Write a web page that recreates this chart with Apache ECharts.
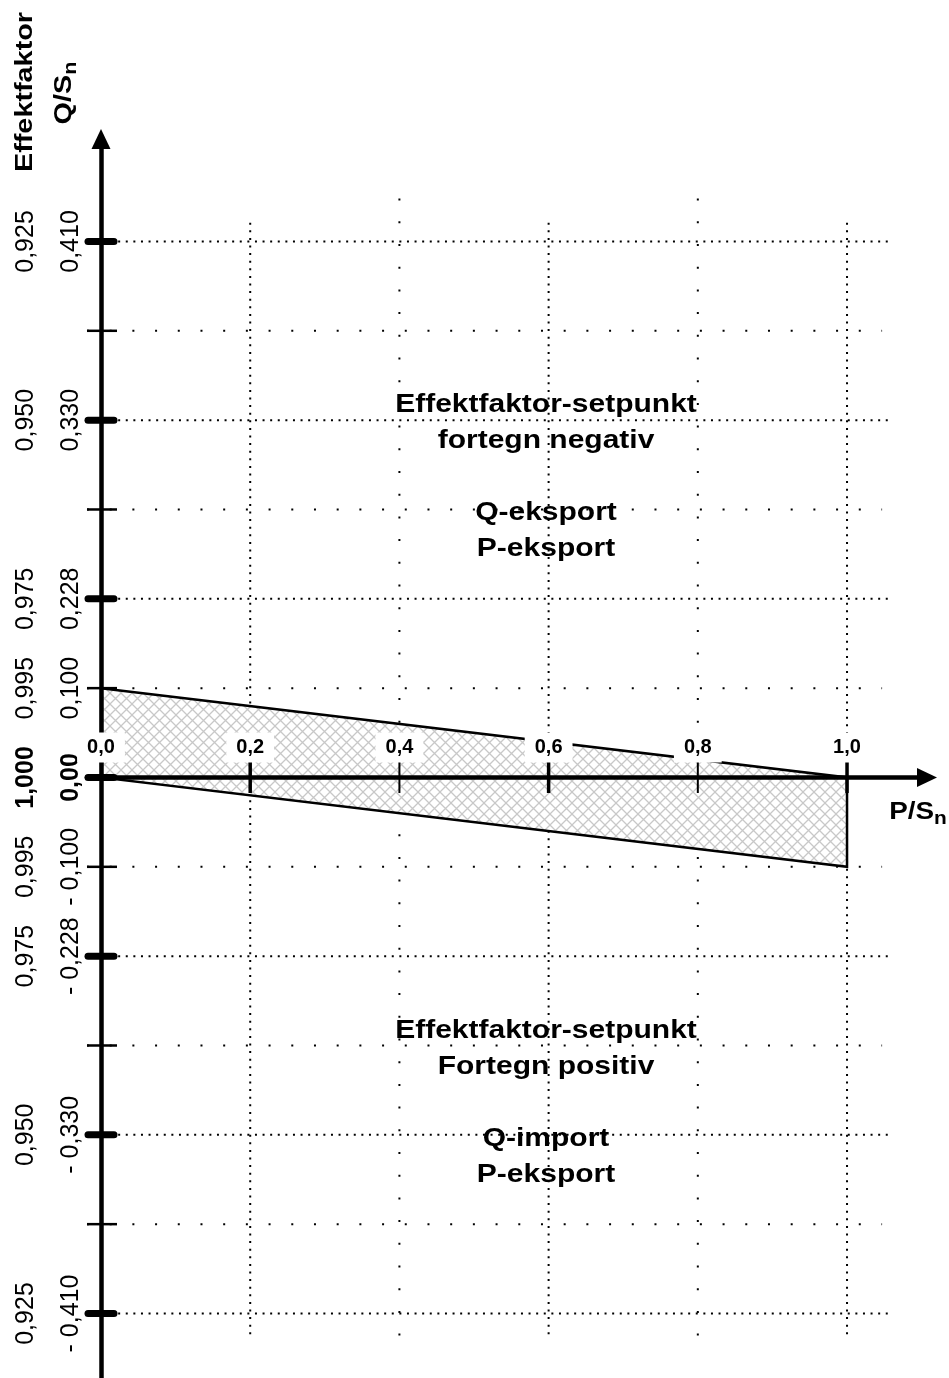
<!DOCTYPE html>
<html><head><meta charset="utf-8">
<script src="https://cdn.jsdelivr.net/npm/echarts@6/dist/echarts.min.js"></script>
<style>html,body{margin:0;padding:0;background:#fff}#c{width:949px;height:1378px}</style>
</head><body><div id="c"></div>
<script>
const FONT = 'Arial, "Liberation Sans", Helvetica, sans-serif';

// ---- data ----
// y axis: evenly spaced tick positions, each with a power-factor label and a Q/Sn label
const yPositions = [6, 5, 4, 3, 2, 1, 0, -1, -2, -3, -4, -5, -6];
const pfLabels = ['0,925', '', '0,950', '', '0,975', '0,995', '1,000', '0,995', '0,975', '', '0,950', '', '0,925'];
const qLabels  = ['0,410', '', '0,330', '', '0,228', '0,100', '0,00', '- 0,100', '- 0,228', '', '- 0,330', '', '- 0,410'];
// Q/Sn value at each labelled position (scale used to place Q values)
const qTickValues = [0.41, 0.33, 0.228, 0.1, 0, -0.1, -0.228, -0.33, -0.41];
const qTickPos    = [6, 4, 2, 1, 0, -1, -2, -4, -6];

const xTicks = [0, 0.2, 0.4, 0.6, 0.8, 1.0];
const xTickLabels = ['0,0', '0,2', '0,4', '0,6', '0,8', '1,0'];

// hatched area vertices [P/Sn, Q/Sn]
const areaP = [0, 1.0, 1.0, 0];
const areaQ = [0.1, 0, -0.1, 0];

// grid lines & ticks
const denseRows = [6, 4, 2, -2, -4, -6];
const sparseRows = [5, 3, 1, -1, -3, -5];
const denseCols = [0.2, 0.6, 1.0];
const sparseCols = [0.4, 0.8];
const thickYTicks = [6, 4, 2, 0, -2, -4, -6];
const thinYTicks = [5, 3, 1, -1, -3, -5];
const thickXTicks = [0.2, 0.6, 1.0];
const thinXTicks = [0.4, 0.8];

// annotation blocks (anchor in axis units: P/Sn, position)
const upperText = ['Effektfaktor-setpunkt', 'fortegn negativ', '', 'Q-eksport', 'P-eksport'];
const lowerText = ['Effektfaktor-setpunkt', 'Fortegn positiv', '', 'Q-import', 'P-eksport'];
const textAnchors = [[0.5965, 3.36], [0.5965, -3.65]];

// ---- helpers ----
function qToPos(q) {
  for (let i = 0; i < qTickValues.length - 1; i++) {
    const a = qTickValues[i], b = qTickValues[i + 1];
    if (q <= a && q >= b) {
      return qTickPos[i] + (q - a) / (b - a) * (qTickPos[i + 1] - qTickPos[i]);
    }
  }
  return 0;
}
function hatchCanvas() {
  const s = 11;
  const c = document.createElement('canvas');
  c.width = s; c.height = s;
  const g = c.getContext('2d');
  g.fillStyle = '#ffffff'; g.fillRect(0, 0, s, s);
  g.strokeStyle = '#c8c8c8'; g.lineWidth = 1.3;
  g.beginPath();
  g.moveTo(-2, -2); g.lineTo(s + 2, s + 2);
  g.moveTo(s + 2, -2); g.lineTo(-2, s + 2);
  g.stroke();
  return c;
}
const HATCH = hatchCanvas();

function gridSeries(items, horizontal, dash, from, to) {
  return {
    type: 'custom', coordinateSystem: 'cartesian2d', z: 1, silent: true,
    data: items.map(v => horizontal ? [0, v] : [v, 0]),
    renderItem: (params, api) => {
      const v = horizontal ? api.value(1) : api.value(0);
      const a = horizontal ? api.coord([from, v]) : api.coord([v, from]);
      const b = horizontal ? api.coord([to, v]) : api.coord([v, to]);
      return { type: 'line', shape: { x1: a[0], y1: a[1], x2: b[0], y2: b[1] },
        style: { stroke: '#000', lineWidth: 2, lineDash: dash } };
    }
  };
}
function tickSeries(items, onY, before, after, width, cap) {
  return {
    type: 'custom', coordinateSystem: 'cartesian2d', z: 6, silent: true,
    data: items.map(v => onY ? [0, v] : [v, 0]),
    renderItem: (params, api) => {
      const p = api.coord([api.value(0), api.value(1)]);
      const shape = onY ? { x1: p[0] - before, y1: p[1], x2: p[0] + after, y2: p[1] }
                        : { x1: p[0], y1: p[1] - before, x2: p[0], y2: p[1] + after };
      return { type: 'line', shape, style: { stroke: '#000', lineWidth: width, lineCap: cap } };
    }
  };
}

// layout: grid box; axes are shifted onto the zero lines with offsets
const GRID = { left: 87, right: 22, top: 139, bottom: 0 };
const X_MIN = -0.01877, X_MAX = 1.1072, Y_MIN = -6.722, Y_MAX = 7.147;
const H = 1378 - GRID.top - GRID.bottom;
const W = 949 - GRID.left - GRID.right;
const zeroY = GRID.top + Y_MAX / (Y_MAX - Y_MIN) * H;          // pixel of Q = 0
const zeroX = GRID.left + (0 - X_MIN) / (X_MAX - X_MIN) * W;    // pixel of P = 0

const chart = echarts.init(document.getElementById('c'), null, { renderer: 'canvas' });
chart.setOption({
  animation: false,
  backgroundColor: '#fff',
  grid: Object.assign({ containLabel: false, outerBoundsMode: 'none' }, GRID),
  xAxis: {
    type: 'value', min: X_MIN, max: X_MAX, z: 10, position: 'bottom',
    offset: -(1378 - GRID.bottom - zeroY),
    axisLine: { onZero: false, symbol: ['none', 'triangle'], symbolSize: [19, 20],
      lineStyle: { color: '#000', width: 4.5 } },
    axisTick: { show: false }, splitLine: { show: false },
    axisLabel: {
      inside: true, customValues: xTicks, margin: 15,
      formatter: v => { const i = xTicks.findIndex(t => Math.abs(t - v) < 1e-6); return i < 0 ? '' : xTickLabels[i]; },
      fontFamily: FONT, fontSize: 20, fontWeight: 'bold', color: '#000',
      backgroundColor: '#fff', padding: [5, 10, 4, 10], lineHeight: 21
    }
  },
  yAxis: {
    type: 'value', min: Y_MIN, max: Y_MAX, z: 4, position: 'left',
    offset: -(zeroX - GRID.left),
    axisLine: { onZero: false, symbol: ['none', 'triangle'], symbolSize: [19, 20],
      lineStyle: { color: '#000', width: 4.5 } },
    axisTick: { show: false }, splitLine: { show: false },
    axisLabel: {
      rotate: 90, customValues: yPositions, margin: 7,
      formatter: v => {
        const i = yPositions.indexOf(Math.round(v));
        if (i < 0 || !pfLabels[i]) return '';
        const st = yPositions[i] === 0 ? 'b' : 'n';
        return '{' + st + '|' + pfLabels[i] + '}\n{' + st + '|' + qLabels[i] + '}';
      },
      rich: {
        n: { fontFamily: FONT, fontSize: 25, color: '#000', lineHeight: 45 },
        b: { fontFamily: FONT, fontSize: 25, fontWeight: 'bold', color: '#000', lineHeight: 45 }
      }
    }
  },
  graphic: [
    { type: 'text', x: 25, y: 92, rotation: Math.PI / 2, scaleX: 1.2, z: 20,
      style: { text: 'Effektfaktor', font: 'bold 24px ' + FONT, align: 'center', verticalAlign: 'middle', fill: '#000' } },
    { type: 'text', x: 64, y: 93, rotation: Math.PI / 2, scaleX: 1.2, z: 20,
      style: { text: '{a|Q/S}{s|n}', align: 'center', verticalAlign: 'middle',
        rich: { a: { fontFamily: FONT, fontSize: 24, fontWeight: 'bold', fill: '#000', lineHeight: 32, verticalAlign: 'middle' },
                s: { fontFamily: FONT, fontSize: 18, fontWeight: 'bold', fill: '#000', lineHeight: 18, verticalAlign: 'bottom' } } } },
    { type: 'text', x: 918, y: 812, scaleX: 1.16, z: 20,
      style: { text: '{a|P/S}{s|n}', align: 'center', verticalAlign: 'middle',
        rich: { a: { fontFamily: FONT, fontSize: 24, fontWeight: 'bold', fill: '#000', lineHeight: 32, verticalAlign: 'middle' },
                s: { fontFamily: FONT, fontSize: 18, fontWeight: 'bold', fill: '#000', lineHeight: 18, verticalAlign: 'bottom' } } } }
  ],
  series: [
    gridSeries(denseRows, true, [2, 5.6], 0.023, 1.0576),
    gridSeries(sparseRows, true, [2, 20.7], -0.0188, 1.047),
    gridSeries(denseCols, false, [2, 5.6], 6.21, -6.27),
    gridSeries(sparseCols, false, [2, 20.7], 6.48, -6.25),
    {
      type: 'custom', coordinateSystem: 'cartesian2d', z: 2, silent: true,
      data: areaP.map((p, i) => [p, qToPos(areaQ[i])]),
      renderItem: (params, api) => {
        if (params.dataIndex !== 0) return null;
        const pts = areaP.map((p, i) => api.coord([p, qToPos(areaQ[i])]));
        return { type: 'polygon', shape: { points: pts },
          style: { fill: { image: HATCH, repeat: 'repeat' }, stroke: '#000', lineWidth: 2.5, lineJoin: 'miter' } };
      }
    },
    tickSeries(thickYTicks, true, 13, 13, 7, 'round'),
    tickSeries(thinYTicks, true, 14, 16, 2.5, 'butt'),
    tickSeries(thickXTicks, false, 15.5, 15.5, 3.5, 'butt'),
    tickSeries(thinXTicks, false, 15.5, 15.5, 2, 'butt'),
    {
      type: 'custom', coordinateSystem: 'cartesian2d', z: 8, silent: true,
      data: textAnchors,
      renderItem: (params, api) => {
        const p = api.coord([api.value(0), api.value(1)]);
        const lines = params.dataIndex === 0 ? upperText : lowerText;
        return { type: 'text', x: p[0], y: p[1], scaleX: 1.2,
          style: { text: lines.join('\n'), x: 0, y: 0, align: 'center', verticalAlign: 'middle',
            font: 'bold 25px ' + FONT, lineHeight: 36, fill: '#000' } };
      }
    }
  ]
});
</script></body></html>
